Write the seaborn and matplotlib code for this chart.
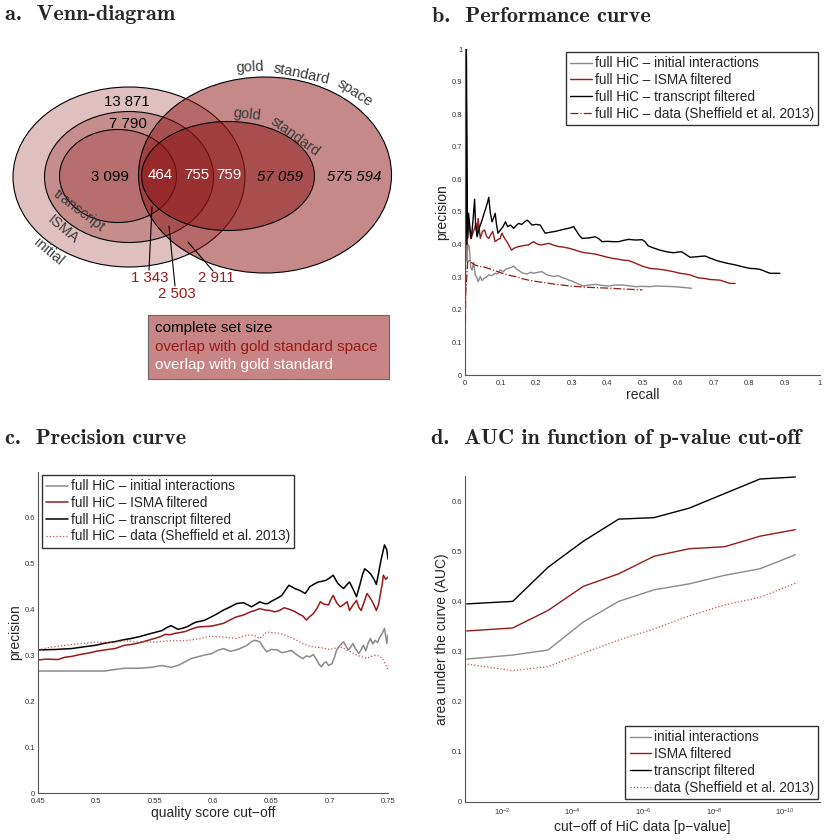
import numpy as np
import pandas as pd
import seaborn as sns
import matplotlib
matplotlib.use("Agg")
import matplotlib.pyplot as plt
from matplotlib.patches import Ellipse, Rectangle

# ---------------- data ----------------
# a. Venn diagram: set sizes
complete_size = {"initial": 13871, "ISMA": 7790, "transcript": 3099,
                 "gold standard space": 575594, "gold standard": 57059}
overlap_space = {"transcript": 1343, "ISMA": 2503, "initial": 2911}
overlap_gold = {"transcript": 464, "ISMA": 755, "initial": 759}
venn_legend = ["complete set size", "overlap with gold standard space",
               "overlap with gold standard"]

# b. performance curve (recall, precision)
perf_initial = [(0.001, 0.25), (0.002, 0.80), (0.005, 0.35), (0.008, 0.40), (0.012, 0.394),
                (0.016, 0.33), (0.020, 0.322), (0.024, 0.345), (0.029, 0.307), (0.033, 0.30),
                (0.037, 0.286), (0.043, 0.302), (0.048, 0.29), (0.053, 0.296), (0.060, 0.30),
                (0.067, 0.307), (0.076, 0.305), (0.085, 0.312), (0.092, 0.31), (0.099, 0.322),
                (0.108, 0.317), (0.115, 0.325), (0.123, 0.327), (0.130, 0.33), (0.137, 0.334),
                (0.145, 0.325), (0.156, 0.317), (0.165, 0.312), (0.175, 0.31), (0.185, 0.315),
                (0.193, 0.312), (0.205, 0.315), (0.217, 0.317), (0.224, 0.312), (0.231, 0.307),
                (0.240, 0.305), (0.250, 0.302), (0.262, 0.305), (0.273, 0.299), (0.283, 0.296),
                (0.292, 0.291), (0.302, 0.288), (0.311, 0.283), (0.322, 0.278), (0.334, 0.273),
                (0.350, 0.276), (0.367, 0.278), (0.385, 0.275), (0.405, 0.273), (0.422, 0.276),
                (0.442, 0.276), (0.460, 0.274), (0.480, 0.271), (0.500, 0.272), (0.520, 0.271),
                (0.540, 0.273), (0.565, 0.272), (0.587, 0.271), (0.610, 0.269), (0.638, 0.266)]
perf_isma = [(0.001, 0.23), (0.003, 1.0), (0.006, 0.40), (0.009, 0.46), (0.012, 0.455),
             (0.016, 0.419), (0.022, 0.435), (0.027, 0.45), (0.031, 0.465), (0.034, 0.43),
             (0.037, 0.48), (0.043, 0.419), (0.049, 0.44), (0.055, 0.445), (0.061, 0.425),
             (0.067, 0.419), (0.072, 0.43), (0.078, 0.44), (0.085, 0.409), (0.092, 0.415),
             (0.099, 0.419), (0.104, 0.435), (0.111, 0.42), (0.118, 0.409), (0.125, 0.395),
             (0.131, 0.383), (0.140, 0.39), (0.151, 0.394), (0.165, 0.397), (0.179, 0.399),
             (0.193, 0.409), (0.203, 0.402), (0.212, 0.399), (0.224, 0.401), (0.236, 0.404),
             (0.250, 0.398), (0.264, 0.394), (0.278, 0.392), (0.292, 0.389), (0.311, 0.383),
             (0.325, 0.378), (0.339, 0.375), (0.353, 0.373), (0.367, 0.371), (0.381, 0.367),
             (0.395, 0.363), (0.414, 0.358), (0.433, 0.355), (0.447, 0.352), (0.461, 0.351),
             (0.480, 0.343), (0.499, 0.334), (0.521, 0.327), (0.542, 0.325), (0.563, 0.322),
             (0.587, 0.317), (0.606, 0.312), (0.620, 0.310), (0.634, 0.307), (0.657, 0.298),
             (0.675, 0.296), (0.690, 0.293), (0.718, 0.291), (0.732, 0.286), (0.746, 0.281),
             (0.761, 0.281)]
perf_transcript = [(0.003, 0.40), (0.004, 1.0), (0.007, 0.42), (0.010, 0.496), (0.014, 0.45),
                   (0.018, 0.419), (0.023, 0.48), (0.027, 0.539), (0.030, 0.46), (0.034, 0.424),
                   (0.040, 0.45), (0.048, 0.475), (0.055, 0.50), (0.061, 0.52), (0.067, 0.545),
                   (0.071, 0.50), (0.076, 0.47), (0.080, 0.48), (0.085, 0.496), (0.089, 0.46),
                   (0.093, 0.435), (0.100, 0.445), (0.107, 0.455), (0.114, 0.47), (0.120, 0.455),
                   (0.128, 0.46), (0.137, 0.45), (0.144, 0.458), (0.151, 0.465), (0.160, 0.462),
                   (0.168, 0.47), (0.175, 0.475), (0.182, 0.468), (0.189, 0.46), (0.200, 0.462),
                   (0.212, 0.46), (0.220, 0.445), (0.226, 0.435), (0.240, 0.438), (0.252, 0.44),
                   (0.264, 0.443), (0.278, 0.447), (0.292, 0.45), (0.306, 0.455), (0.315, 0.44),
                   (0.322, 0.428), (0.330, 0.419), (0.345, 0.42), (0.357, 0.422), (0.367, 0.424),
                   (0.377, 0.418), (0.386, 0.409), (0.400, 0.41), (0.418, 0.409), (0.433, 0.409),
                   (0.447, 0.413), (0.461, 0.416), (0.480, 0.414), (0.499, 0.415), (0.507, 0.409),
                   (0.516, 0.396), (0.530, 0.39), (0.549, 0.383), (0.568, 0.378), (0.587, 0.375),
                   (0.600, 0.377), (0.610, 0.378), (0.622, 0.37), (0.634, 0.361), (0.655, 0.363),
                   (0.676, 0.365), (0.692, 0.358), (0.709, 0.351), (0.726, 0.346), (0.742, 0.342),
                   (0.760, 0.338), (0.775, 0.334), (0.790, 0.330), (0.803, 0.327), (0.818, 0.326),
                   (0.831, 0.324), (0.845, 0.318), (0.859, 0.312), (0.873, 0.312), (0.887, 0.312)]
perf_sheffield = [(0.0, 0.0), (0.002, 0.25), (0.008, 0.353), (0.018, 0.345), (0.029, 0.337),
                  (0.043, 0.333), (0.057, 0.330), (0.071, 0.325), (0.085, 0.320), (0.100, 0.314),
                  (0.114, 0.309), (0.128, 0.305), (0.142, 0.302), (0.160, 0.296), (0.179, 0.291),
                  (0.200, 0.287), (0.226, 0.283), (0.250, 0.279), (0.273, 0.276), (0.296, 0.273),
                  (0.320, 0.271), (0.345, 0.269), (0.367, 0.268), (0.390, 0.267), (0.414, 0.266),
                  (0.440, 0.264), (0.461, 0.263), (0.480, 0.262), (0.500, 0.261)]

# c. precision curve (quality score cut-off, precision)
prec_initial = [(0.450, 0.266), (0.470, 0.266), (0.490, 0.266), (0.507, 0.266), (0.515, 0.269),
                (0.524, 0.272), (0.536, 0.272), (0.547, 0.274), (0.556, 0.278), (0.564, 0.274),
                (0.570, 0.278), (0.576, 0.286), (0.581, 0.293), (0.587, 0.297), (0.593, 0.301),
                (0.599, 0.304), (0.604, 0.311), (0.609, 0.315), (0.615, 0.309), (0.620, 0.312),
                (0.625, 0.317), (0.629, 0.322), (0.633, 0.330), (0.636, 0.333), (0.640, 0.330),
                (0.643, 0.318), (0.646, 0.308), (0.650, 0.313), (0.655, 0.312), (0.659, 0.306),
                (0.663, 0.308), (0.667, 0.311), (0.672, 0.301), (0.677, 0.293), (0.680, 0.299),
                (0.683, 0.297), (0.686, 0.302), (0.689, 0.290), (0.691, 0.280), (0.693, 0.275),
                (0.695, 0.283), (0.697, 0.286), (0.699, 0.278), (0.702, 0.282), (0.704, 0.295),
                (0.706, 0.312), (0.709, 0.322), (0.712, 0.330), (0.714, 0.320), (0.716, 0.312),
                (0.718, 0.318), (0.720, 0.326), (0.722, 0.315), (0.725, 0.304), (0.727, 0.313),
                (0.729, 0.322), (0.731, 0.310), (0.733, 0.327), (0.735, 0.337), (0.737, 0.325),
                (0.739, 0.333), (0.741, 0.328), (0.743, 0.340), (0.745, 0.348), (0.747, 0.359),
                (0.749, 0.326), (0.750, 0.345)]
prec_isma = [(0.450, 0.290), (0.457, 0.292), (0.467, 0.291), (0.473, 0.296), (0.479, 0.298),
             (0.486, 0.302), (0.493, 0.305), (0.500, 0.309), (0.507, 0.312), (0.516, 0.315),
             (0.524, 0.322), (0.530, 0.324), (0.536, 0.327), (0.543, 0.332), (0.550, 0.337),
             (0.555, 0.341), (0.559, 0.346), (0.563, 0.345), (0.567, 0.348), (0.572, 0.350),
             (0.576, 0.352), (0.582, 0.358), (0.587, 0.362), (0.593, 0.363), (0.599, 0.364),
             (0.604, 0.367), (0.609, 0.370), (0.615, 0.378), (0.620, 0.384), (0.626, 0.388),
             (0.632, 0.395), (0.636, 0.398), (0.640, 0.402), (0.645, 0.399), (0.649, 0.398),
             (0.653, 0.395), (0.657, 0.398), (0.661, 0.404), (0.666, 0.400), (0.670, 0.396),
             (0.673, 0.391), (0.677, 0.386), (0.680, 0.377), (0.683, 0.385), (0.686, 0.391),
             (0.689, 0.402), (0.692, 0.417), (0.695, 0.412), (0.699, 0.410), (0.701, 0.422),
             (0.703, 0.431), (0.706, 0.415), (0.709, 0.406), (0.712, 0.411), (0.715, 0.417),
             (0.717, 0.398), (0.720, 0.410), (0.723, 0.420), (0.725, 0.405), (0.727, 0.398),
             (0.730, 0.420), (0.732, 0.435), (0.734, 0.428), (0.736, 0.420), (0.738, 0.410),
             (0.740, 0.398), (0.742, 0.412), (0.743, 0.427), (0.745, 0.455), (0.746, 0.475),
             (0.748, 0.466), (0.750, 0.471)]
prec_transcript = [(0.450, 0.312), (0.465, 0.313), (0.479, 0.315), (0.490, 0.319), (0.499, 0.322),
                   (0.508, 0.327), (0.516, 0.330), (0.523, 0.334), (0.530, 0.337), (0.537, 0.341),
                   (0.544, 0.346), (0.550, 0.350), (0.556, 0.354), (0.560, 0.360), (0.564, 0.365),
                   (0.567, 0.361), (0.570, 0.357), (0.575, 0.360), (0.579, 0.364), (0.583, 0.370),
                   (0.586, 0.373), (0.590, 0.375), (0.593, 0.377), (0.597, 0.382), (0.603, 0.390),
                   (0.609, 0.399), (0.615, 0.406), (0.620, 0.413), (0.626, 0.415), (0.630, 0.410),
                   (0.633, 0.406), (0.637, 0.412), (0.640, 0.417), (0.644, 0.413), (0.647, 0.413),
                   (0.650, 0.418), (0.653, 0.422), (0.656, 0.426), (0.659, 0.431), (0.662, 0.442),
                   (0.665, 0.453), (0.668, 0.449), (0.670, 0.446), (0.675, 0.441), (0.679, 0.435),
                   (0.681, 0.442), (0.683, 0.450), (0.687, 0.456), (0.690, 0.460), (0.694, 0.462),
                   (0.697, 0.464), (0.700, 0.469), (0.703, 0.475), (0.705, 0.466), (0.707, 0.457),
                   (0.710, 0.450), (0.712, 0.446), (0.715, 0.455), (0.717, 0.460), (0.720, 0.445),
                   (0.723, 0.428), (0.726, 0.455), (0.728, 0.475), (0.730, 0.489), (0.733, 0.483),
                   (0.735, 0.478), (0.738, 0.466), (0.740, 0.455), (0.742, 0.480), (0.744, 0.508),
                   (0.746, 0.530), (0.747, 0.541), (0.749, 0.530), (0.750, 0.510)]
prec_sheffield = [(0.450, 0.312), (0.455, 0.315), (0.461, 0.318), (0.467, 0.320), (0.473, 0.322),
                  (0.480, 0.324), (0.487, 0.326), (0.494, 0.327), (0.501, 0.329), (0.508, 0.328),
                  (0.516, 0.329), (0.524, 0.332), (0.530, 0.331), (0.536, 0.329), (0.543, 0.330),
                  (0.550, 0.329), (0.557, 0.331), (0.564, 0.332), (0.571, 0.332), (0.579, 0.333),
                  (0.585, 0.335), (0.590, 0.337), (0.597, 0.342), (0.603, 0.341), (0.609, 0.340),
                  (0.615, 0.338), (0.620, 0.337), (0.626, 0.342), (0.630, 0.344), (0.635, 0.344),
                  (0.640, 0.337), (0.643, 0.344), (0.646, 0.351), (0.650, 0.350), (0.655, 0.349),
                  (0.660, 0.346), (0.666, 0.340), (0.670, 0.335), (0.675, 0.329), (0.679, 0.324),
                  (0.683, 0.320), (0.688, 0.318), (0.692, 0.317), (0.696, 0.315), (0.700, 0.313),
                  (0.705, 0.316), (0.709, 0.319), (0.713, 0.314), (0.717, 0.309), (0.720, 0.305),
                  (0.723, 0.301), (0.727, 0.297), (0.732, 0.294), (0.736, 0.298), (0.740, 0.301),
                  (0.743, 0.297), (0.745, 0.294), (0.747, 0.285), (0.749, 0.275), (0.750, 0.268)]

# d. AUC vs p-value cut-off
p_cutoff = [1e-1, 5e-3, 5e-4, 5e-5, 5e-6, 5e-7, 5e-8, 5e-9, 5e-10, 5e-11]
auc_initial = [0.285, 0.293, 0.303, 0.359, 0.400, 0.423, 0.435, 0.452, 0.465, 0.493]
auc_isma = [0.341, 0.347, 0.382, 0.430, 0.455, 0.490, 0.505, 0.509, 0.530, 0.543]
auc_transcript = [0.395, 0.400, 0.468, 0.520, 0.564, 0.567, 0.586, 0.615, 0.644, 0.648]
auc_sheffield = [0.275, 0.262, 0.270, 0.297, 0.323, 0.345, 0.371, 0.393, 0.408, 0.436]

series_names = ["initial interactions", "ISMA filtered", "transcript filtered",
                "data (Sheffield et al. 2013)"]

# ---------------- style ----------------
sns.set_style("white")
plt.rcParams['font.family'] = ['Liberation Sans', 'DejaVu Sans']
plt.rcParams['mathtext.fontset'] = 'custom'
plt.rcParams['mathtext.rm'] = 'Liberation Sans'
plt.rcParams['mathtext.it'] = 'Liberation Sans:italic'

GRAY = "#8a8a8a"
RED = "#991a1a"
LIGHTRED = "#cc5050"
DARK = "#3a3a3a"
TITLE_FONT = ['cmb10', 'DejaVu Serif']
LEG_FS = 9.8

fig = plt.figure(figsize=(8.3, 8.4), dpi=100)


def fmt(n):
    return "{:,}".format(n).replace(",", " ")


def style_axes(ax):
    sns.despine(ax=ax)
    for s in ["left", "bottom"]:
        ax.spines[s].set_color("#555555")
        ax.spines[s].set_linewidth(0.8)
    ax.tick_params(direction="in", length=3, width=0.6, labelsize=5.5,
                   colors="#333333", pad=2)
    ax.tick_params(axis="x", pad=3.5)


def short(v):
    return "{:g}".format(round(v, 2))


def line(ax, pts, **kw):
    x, y = zip(*pts)
    sns.lineplot(x=list(x), y=list(y), ax=ax, sort=False, estimator=None, **kw)


def legend(ax, **kw):
    ax.legend(fontsize=LEG_FS, frameon=True, fancybox=False, edgecolor="#333333",
              framealpha=1, borderpad=0.3, labelspacing=0.2, handlelength=1.6,
              handletextpad=0.2, borderaxespad=0, **kw)


# ---------------- a. Venn ----------------
ax_a = fig.add_axes([0, 0.5, 0.5, 0.5])
ax_a.set_xlim(0, 415)
ax_a.set_ylim(420, 0)
ax_a.axis("off")
base = (0.55, 0.08, 0.08)
ellipses = [((129, 177), 232, 180, 0.27), ((129, 177), 169, 131, 0.29),
            ((118, 176), 117, 93, 0.25), ((265, 175), 253, 196, 0.50),
            ((228, 176), 173, 109, 0.50)]
for c, w, h, a in ellipses:
    ax_a.add_patch(Ellipse(c, w, h, facecolor=base + (a,), edgecolor="black", lw=0.8))

tkw = dict(ha="center", va="center", fontsize=10.8)
ax_a.text(127, 102, fmt(complete_size["initial"]), color="black", **tkw)
ax_a.text(128, 124, fmt(complete_size["ISMA"]), color="black", **tkw)
ax_a.text(110, 177, fmt(complete_size["transcript"]), color="black", **tkw)
ax_a.text(280, 177, fmt(complete_size["gold standard"]), color="black", style="italic", **tkw)
ax_a.text(354, 177, fmt(complete_size["gold standard space"]), color="black", style="italic", **tkw)
ax_a.text(160, 175, fmt(overlap_gold["transcript"]), color="white", **tkw)
ax_a.text(197, 175, fmt(overlap_gold["ISMA"]), color="white", **tkw)
ax_a.text(229, 175, fmt(overlap_gold["initial"]), color="white", **tkw)
ax_a.text(150, 278, fmt(overlap_space["transcript"]), color=RED, **tkw)
ax_a.text(177, 294, fmt(overlap_space["ISMA"]), color=RED, **tkw)
ax_a.text(216, 278, fmt(overlap_space["initial"]), color=RED, **tkw)
ax_a.plot([149, 152], [270, 207], color="black", lw=0.8)
ax_a.plot([175, 169], [286, 226], color="black", lw=0.8)
ax_a.plot([213, 188], [271, 242], color="black", lw=0.8)

# set labels
for txt, x, y, r in [("gold", 250, 67, 3), ("standard", 301, 74, -12), ("space", 355, 93, -33),
                     ("gold", 247, 115, -6), ("standard", 295, 137, -36),
                     ("transcript", 79, 211, -37), ("ISMA", 63, 229, -40),
                     ("initial", 49, 252, -40)]:
    ax_a.text(x, y, txt, rotation=r, color=DARK, ha="center", va="center",
              fontsize=10.5, rotation_mode="anchor")

ax_a.add_patch(Rectangle((148, 315), 241, 64, facecolor="#c78585", edgecolor="#666666", lw=0.8))
for txt, col, y in zip(venn_legend, ["black", RED, "white"], [328, 347, 365]):
    ax_a.text(155, y, txt, color=col, ha="left", va="center", fontsize=11)

# ---------------- b. Performance curve ----------------
ax_b = fig.add_axes([465 / 830, 1 - 375 / 840, 355 / 830, 326 / 840])
line(ax_b, perf_initial, color=GRAY, lw=1.0, label="full HiC \u2013 " + series_names[0])
line(ax_b, perf_isma, color=RED, lw=1.0, label="full HiC \u2013 " + series_names[1])
line(ax_b, perf_transcript, color="black", lw=1.0, label="full HiC \u2013 " + series_names[2])
line(ax_b, perf_sheffield, color=RED, lw=0.9, linestyle="-.",
     label="full HiC \u2013 " + series_names[3])
ax_b.set_xlim(0, 1)
ax_b.set_ylim(0, 1)
ticks = np.arange(0, 1.01, 0.1)
ax_b.set_xticks(ticks, [short(t) for t in ticks])
ax_b.set_yticks(ticks, [short(t) for t in ticks])
style_axes(ax_b)
ax_b.set_xlabel("recall", fontsize=10, labelpad=1)
ax_b.set_ylabel("precision", fontsize=10, labelpad=2)
legend(ax_b, loc="upper right", bbox_to_anchor=(0.995, 0.99))

# ---------------- c. Precision curve ----------------
ax_c = fig.add_axes([38 / 830, 1 - 793 / 840, 350 / 830, 321 / 840])
line(ax_c, prec_initial, color=GRAY, lw=1.1, label="full HiC \u2013 " + series_names[0])
line(ax_c, prec_isma, color=RED, lw=1.1, label="full HiC \u2013 " + series_names[1])
line(ax_c, prec_transcript, color="black", lw=1.1, label="full HiC \u2013 " + series_names[2])
line(ax_c, prec_sheffield, color=LIGHTRED, lw=0.9, linestyle=":",
     label="full HiC \u2013 " + series_names[3])
ax_c.set_xlim(0.45, 0.75)
ax_c.set_ylim(0, 0.7)
xt = np.arange(0.45, 0.751, 0.05)
ax_c.set_xticks(xt, [short(t) for t in xt])
yt = np.arange(0, 0.61, 0.1)
ax_c.set_yticks(yt, [short(t) for t in yt])
style_axes(ax_c)
ax_c.set_xlabel("quality score cut\u2212off", fontsize=10, labelpad=1)
ax_c.set_ylabel("precision", fontsize=10, labelpad=2)
legend(ax_c, loc="upper left", bbox_to_anchor=(0.012, 0.99))

# ---------------- d. AUC ----------------
ax_d = fig.add_axes([465 / 830, 1 - 802 / 840, 355 / 830, 326 / 840])
ax_d.set_xscale("log")
sns.lineplot(x=p_cutoff, y=auc_initial, ax=ax_d, color=GRAY, lw=1.0, label=series_names[0])
sns.lineplot(x=p_cutoff, y=auc_isma, ax=ax_d, color=RED, lw=1.0, label=series_names[1])
sns.lineplot(x=p_cutoff, y=auc_transcript, ax=ax_d, color="black", lw=1.0, label=series_names[2])
sns.lineplot(x=p_cutoff, y=auc_sheffield, ax=ax_d, color=LIGHTRED, lw=0.9, linestyle=":",
             label=series_names[3])
ax_d.set_xlim(0.112, 1e-11)
ax_d.set_ylim(0, 0.65)
ax_d.set_xticks([1e-2, 1e-4, 1e-6, 1e-8, 1e-10],
                ["10$^{-2}$", "10$^{-4}$", "10$^{-6}$", "10$^{-8}$", "10$^{-10}$"])
ax_d.minorticks_off()
ax_d.set_yticks(yt, [short(t) for t in yt])
style_axes(ax_d)
ax_d.set_xlabel("cut\u2212off of HiC data [p\u2212value]", fontsize=10, labelpad=1)
ax_d.set_ylabel("area under the curve (AUC)", fontsize=10, labelpad=2)
legend(ax_d, loc="lower right", bbox_to_anchor=(0.995, 0.01))

# ---------------- titles ----------------
for txt, x, y in [("a.  Venn-diagram", 5, 15), ("b.  Performance curve", 432, 16),
                  ("c.  Precision curve", 5, 439), ("d.  AUC in function of p-value cut-off", 431, 439)]:
    fig.text(x / 830, 1 - y / 840, txt, ha="left", va="center", fontsize=16,
             family=TITLE_FONT, fontweight="bold")

fig.savefig("out.png", dpi=100)
